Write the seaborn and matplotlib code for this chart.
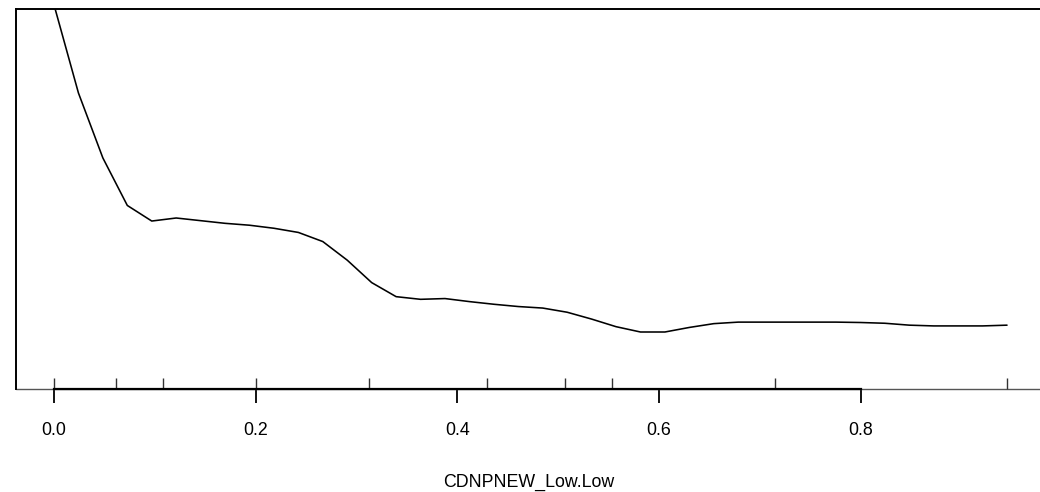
import numpy as np
import pandas as pd
import matplotlib
matplotlib.use("Agg")
import matplotlib.pyplot as plt
import seaborn as sns

# Partial dependence of the response on CDNPNEW_Low.Low
grid_x = np.linspace(0.0, 0.945, 40)
partial_dep = [1.011, 0.779, 0.608, 0.483, 0.442, 0.450, 0.443, 0.436, 0.431, 0.423,
               0.412, 0.388, 0.339, 0.280, 0.243, 0.236, 0.238, 0.230, 0.223, 0.217,
               0.213, 0.202, 0.184, 0.164, 0.150, 0.150, 0.162, 0.172, 0.176, 0.176,
               0.176, 0.176, 0.176, 0.175, 0.173, 0.168, 0.166, 0.166, 0.166, 0.168]

# Observed deciles of the predictor (rug)
deciles = [0.0, 0.0615, 0.108, 0.2, 0.312, 0.429, 0.507, 0.553, 0.715, 0.945]

x_ticks = [0.0, 0.2, 0.4, 0.6, 0.8]
x_tick_labels = ["0.0", "0.2", "0.4", "0.6", "0.8"]
x_label = "CDNPNEW_Low.Low"

sns.set_style("white")
plt.rcParams["font.family"] = ["Liberation Sans", "DejaVu Sans"]
plt.rcParams["text.color"] = "black"
plt.rcParams["axes.labelcolor"] = "black"
plt.rcParams["xtick.color"] = "black"

W, H = 1040, 492
fig = plt.figure(figsize=(W / 100, H / 100), dpi=100)
left_px, right_px, top_px, bottom_px = 16, 1042, 9, 389
ax = fig.add_axes([left_px / W, 1 - bottom_px / H,
                   (right_px - left_px) / W, (bottom_px - top_px) / H])

df = pd.DataFrame({"x": grid_x, "y": partial_dep})
sns.lineplot(data=df, x="x", y="y", ax=ax, color="black", linewidth=1.15)
sns.rugplot(x=deciles, ax=ax, height=11 / 380, color="#333333", linewidth=1.0,
            clip_on=False)

px_per_unit = 1008.5
ax.set_xlim((left_px - 54) / px_per_unit, (right_px - 54) / px_per_unit)
ax.set_ylim(0, 1)

for side in ["left", "top"]:
    ax.spines[side].set_color("black")
    ax.spines[side].set_linewidth(1.4)
ax.spines["right"].set_visible(False)
ax.spines["bottom"].set_color("black")
ax.spines["bottom"].set_linewidth(1.6)
ax.spines["bottom"].set_bounds(0.0, 0.8)
ax.axhline(0, color="#555555", linewidth=1.0, clip_on=False, zorder=1)

ax.set_yticks([])
ax.set_xticks(x_ticks)
ax.set_xticklabels(x_tick_labels, fontsize=12.8, color="black")
ax.tick_params(axis="x", direction="out", length=10, width=1.3, color="black",
               labelcolor="black", pad=14, bottom=True)
ax.set_xlabel(x_label, fontsize=12.8, labelpad=24.8, color="black")
ax.set_ylabel("")

fig.savefig("out.png", dpi=100)
